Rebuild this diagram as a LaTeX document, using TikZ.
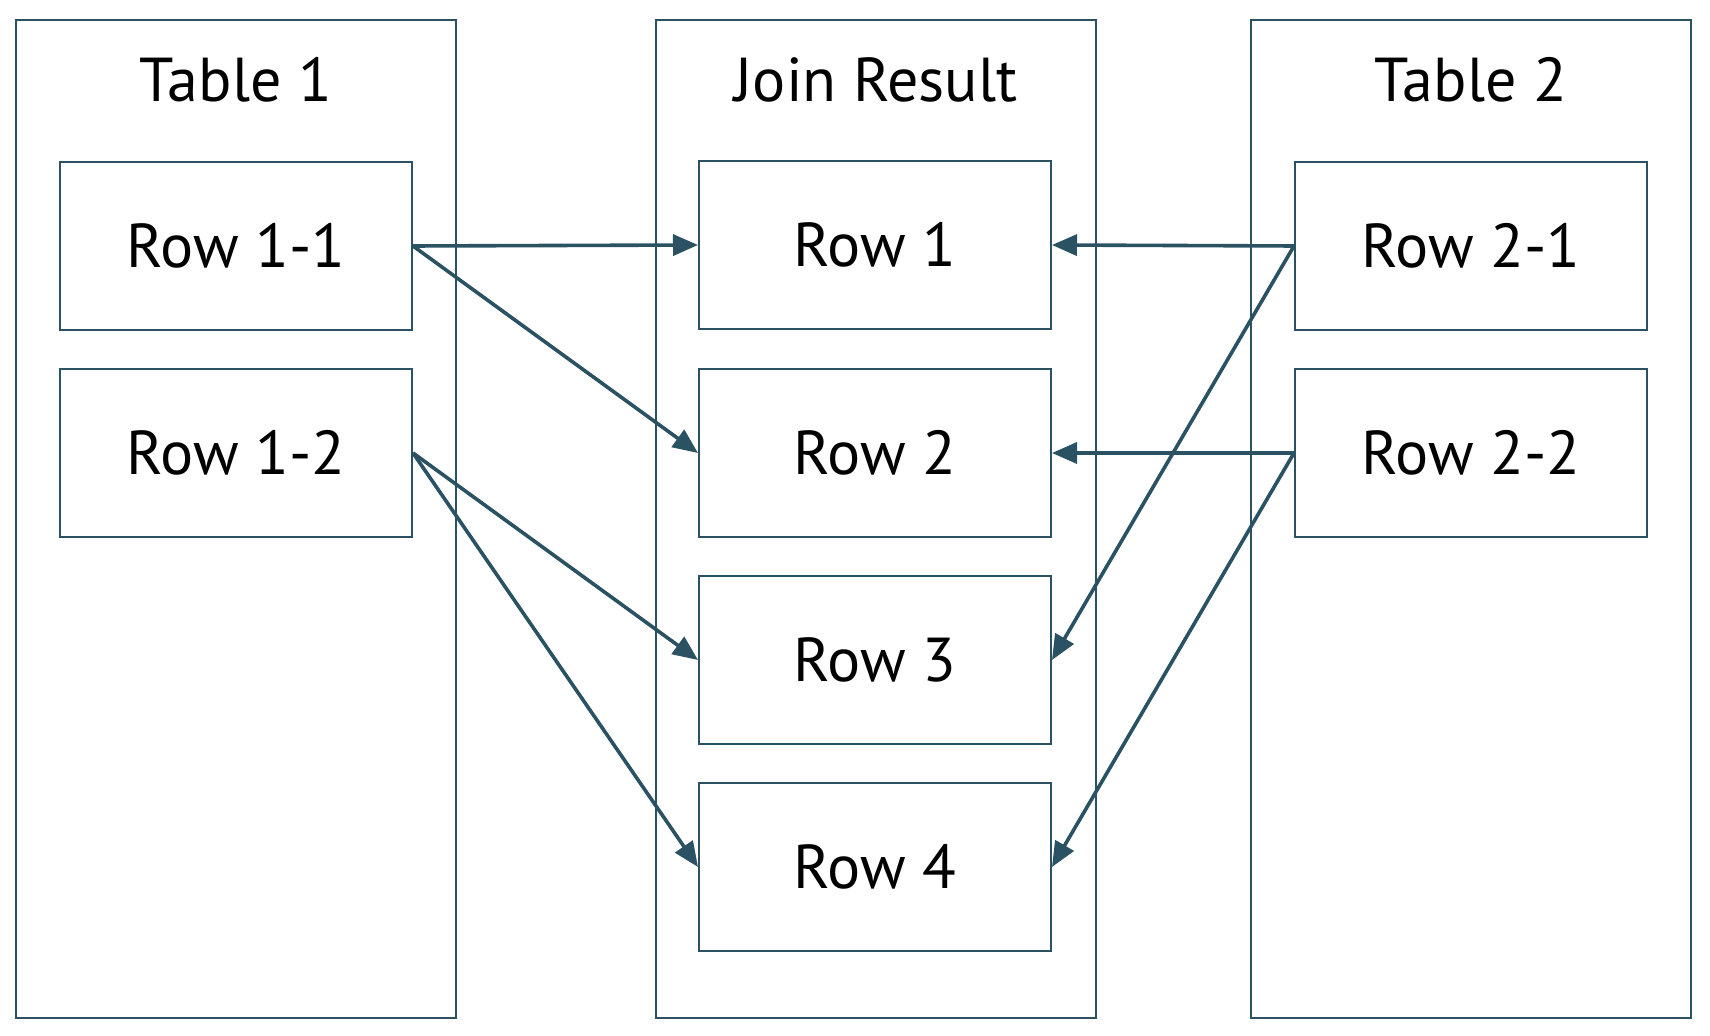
\documentclass[tikz,border=0pt]{standalone}
\usepackage{fontspec}
\setmainfont{PT Sans}
\usetikzlibrary{arrows.meta}
\definecolor{edgeteal}{HTML}{2B5263}
\begin{document}
\begin{tikzpicture}[x=0.5pt,y=-0.5pt,
  tablebox/.style={draw=edgeteal,line width=1pt,minimum width=220pt,minimum height=499pt,inner sep=0pt},
  rowbox/.style={draw=edgeteal,line width=1pt,minimum width=176pt,minimum height=84pt,inner sep=0pt,font=\fontsize{31}{38}\selectfont},
  title/.style={inner sep=0pt,font=\fontsize{31}{38}\selectfont},
  link/.style={draw=edgeteal,line width=1.8pt,-{Triangle[length=12.5pt,width=10.5pt]}}]
\useasboundingbox (0,0) rectangle (1710,1036);
% outer boxes
\node[tablebox] (T1) at (236,519) {};
\node[tablebox] (JR) at (876,519) {};
\node[tablebox] (T2) at (1471,519) {};
\node[title] at (236,80) {Table 1};
\node[title] at (876,80) {Join Result};
\node[title] at (1471,80) {Table 2};
% rows
\node[rowbox] (R11) at (236,246) {Row 1-1};
\node[rowbox] (R12) at (236,453) {Row 1-2};
\node[rowbox] (R21) at (1471,246) {Row 2-1};
\node[rowbox] (R22) at (1471,453) {Row 2-2};
\node[rowbox] (J1) at (875,245) {Row 1};
\node[rowbox] (J2) at (875,453) {Row 2};
\node[rowbox] (J3) at (875,660) {Row 3};
\node[rowbox] (J4) at (875,867) {Row 4};
% matches
\draw[link] (R11.east) -- (J1.west);
\draw[link] (R11.east) -- (J2.west);
\draw[link] (R12.east) -- (J3.west);
\draw[link] (R12.east) -- (J4.west);
\draw[link] (R21.west) -- (J1.east);
\draw[link] (R21.west) -- (J3.east);
\draw[link] (R22.west) -- (J2.east);
\draw[link] (R22.west) -- (J4.east);
\end{tikzpicture}
\end{document}
